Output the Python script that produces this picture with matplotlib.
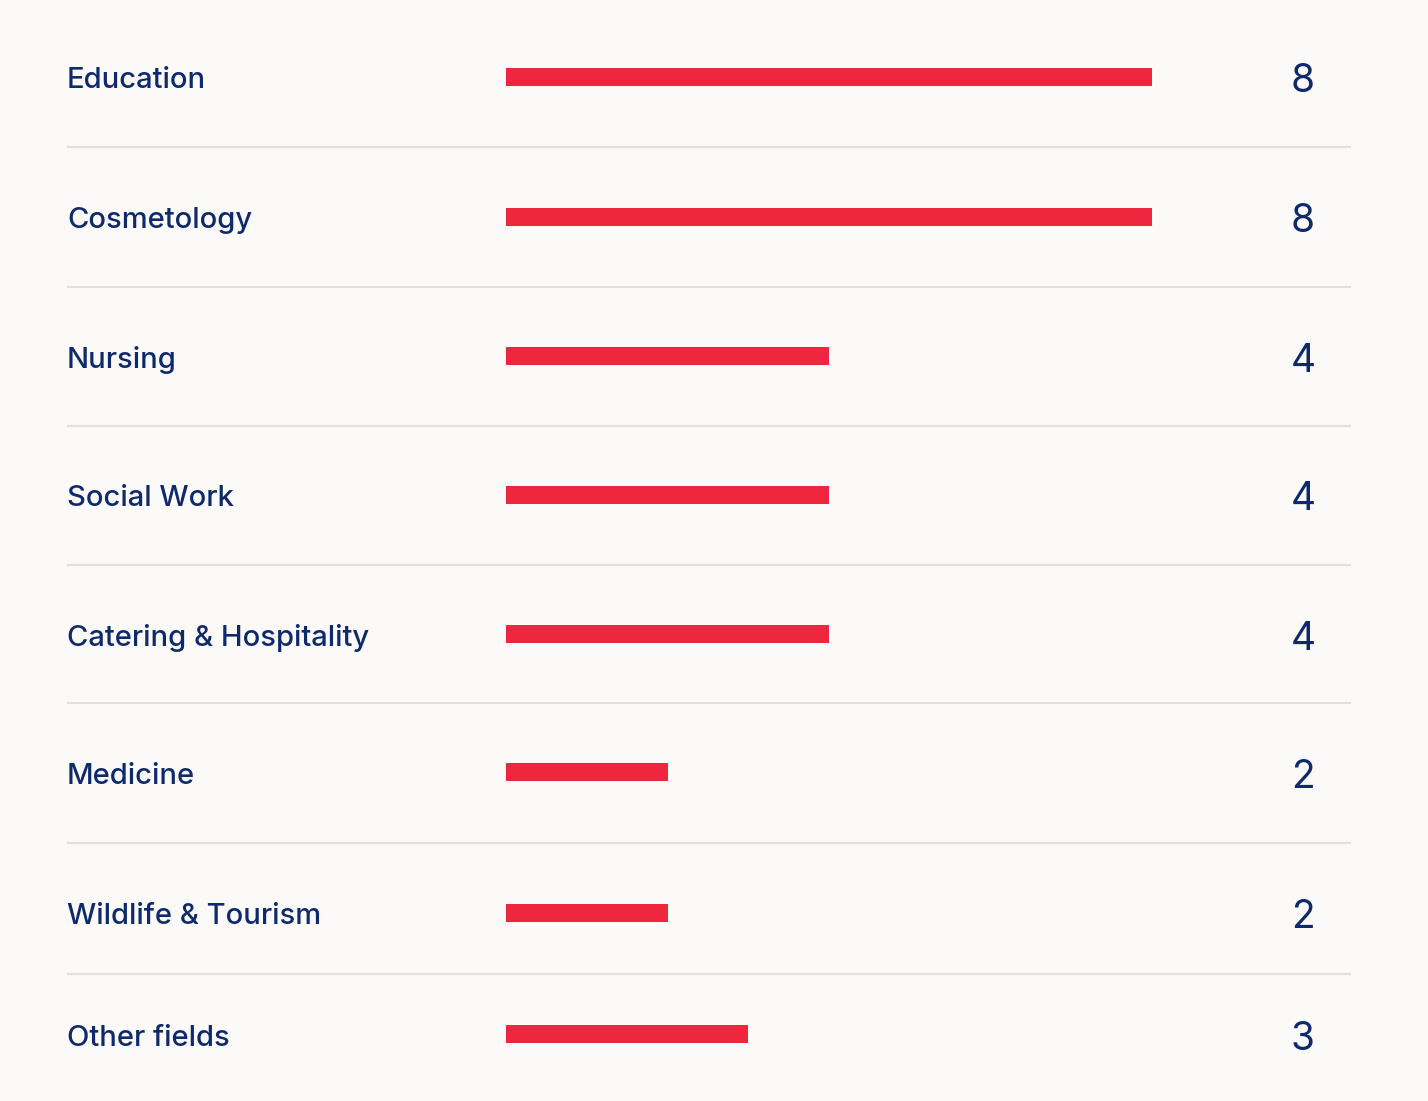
import numpy as np
import matplotlib.pyplot as plt

categories = ["Education", "Cosmetology", "Nursing", "Social Work",
              "Catering & Hospitality", "Medicine", "Wildlife & Tourism",
              "Other fields"]
values = [8, 8, 4, 4, 4, 2, 2, 3]

# layout (pixel rows, top to bottom)
row_y = np.array([77, 217, 356, 495, 634, 772, 913, 1034])
sep_y = (row_y[:-1] + row_y[1:]) / 2

W, H = 1428, 1101
bg = "#FBFAF8"
navy = "#0E2A6C"
red = "#EF273E"

plt.rcParams['font.family'] = ['Inter', 'DejaVu Sans']

fig = plt.figure(figsize=(W / 100, H / 100), dpi=100, facecolor=bg)
ax = fig.add_axes([0, 0, 1, 1])
ax.set_facecolor(bg)

unit = 80.8  # px per unit
x0 = 506.0
ax.set_xlim(-x0 / unit, (W - x0) / unit)
ax.set_ylim(H, 0)

ax.barh(row_y, values, height=18, left=0, color=red)

lab_x = (67 - x0) / unit
num_x = (1303 - x0) / unit
for y, cat, v in zip(row_y, categories, values):
    ax.text(lab_x, y + 4, cat, ha="left", va="center", fontsize=21,
            fontweight="medium", color=navy)
    ax.text(num_x, y + 5, str(v), ha="center", va="center", fontsize=28,
            color=navy)

for y in sep_y:
    ax.hlines(y, lab_x, (1351 - x0) / unit, color="#E2E0DE", lw=1.5)

ax.axis("off")
fig.savefig("out.png", dpi=100, facecolor=bg)
